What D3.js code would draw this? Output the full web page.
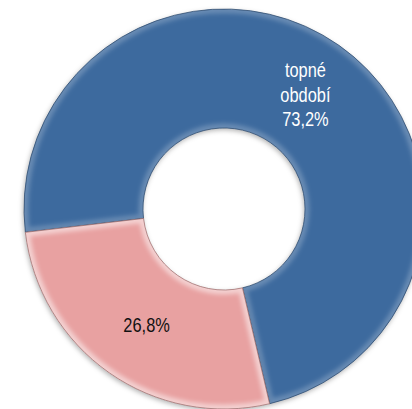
<!DOCTYPE html>
<html>
<head>
<meta charset="utf-8">
<script src="https://cdn.jsdelivr.net/npm/d3@7"></script>
<style>
  html, body { margin: 0; padding: 0; background: #fff; }
  svg { display: block; }
</style>
</head>
<body>
<div class="donut-chart"></div>
<script>
// chart data
const categories = ["topné období", "netopné období"]
const values = [73.2, 26.8]
const nameLines = [["topné", "období"], []]
const colors = ["#3e6a9e", "#e8a1a1"]
const textColors = ["#ffffff", "#111111"]

const dimensions = { width: 412, height: 409, outer: 200, inner: 81 }
const center = { x: 224, y: 209 }

const svg = d3.select('.donut-chart')
    .append('svg')
    .attr('width', dimensions.width)
    .attr('height', dimensions.height)

const defs = svg.append('defs')

const shadow = defs.append('filter')
    .attr('id', 'shadow')
    .attr('x', '-20%').attr('y', '-20%')
    .attr('width', '140%').attr('height', '140%')
shadow.append('feDropShadow')
    .attr('dx', -1).attr('dy', 2)
    .attr('stdDeviation', 2.5)
    .attr('flood-color', '#000')
    .attr('flood-opacity', 0.3)

const soft = defs.append('filter').attr('id', 'soft')
soft.append('feGaussianBlur').attr('stdDeviation', 2.2)

const graph = svg.append('g')
    .attr('transform', `translate(${center.x}, ${center.y})`)

const data = categories.map((c, i) => ({ name: c, value: values[i], idx: i }))

// blue slice starts just below the 9 o'clock position
const start = -96.7 * Math.PI / 180
const pie = d3.pie()
    .sort(null)
    .value(d => d.value)
    .startAngle(start)
    .endAngle(start + 2 * Math.PI)

const arcPath = d3.arc()
    .outerRadius(dimensions.outer)
    .innerRadius(dimensions.inner)

const labelArc = d3.arc()
    .outerRadius(140)
    .innerRadius(140)

const arcs = pie(data)

arcs.forEach((d, i) => {
    defs.append('clipPath')
        .attr('id', 'clip' + i)
        .append('path')
        .attr('d', arcPath(d))
})

const slices = graph.selectAll('g.slice')
    .data(arcs)
    .enter()
    .append('g')
    .attr('class', 'slice')

slices.append('path')
    .attr('d', arcPath)
    .attr('fill', d => colors[d.data.idx])
    .attr('filter', 'url(#shadow)')

// bevel highlight along the edges
slices.append('g')
    .attr('clip-path', (d, i) => `url(#clip${i})`)
    .append('path')
    .attr('d', arcPath)
    .attr('fill', 'none')
    .attr('stroke', '#fff')
    .attr('stroke-opacity', d => d.data.idx === 0 ? 0.22 : 0.5)
    .attr('stroke-width', 9)
    .attr('filter', 'url(#soft)')

slices.append('path')
    .attr('d', arcPath)
    .attr('fill', 'none')
    .attr('stroke', d => d3.color(colors[d.data.idx]).darker(1.2))
    .attr('stroke-opacity', 0.7)
    .attr('stroke-width', 1)

// labels
const fmt = v => d3.format('.1f')(v).replace('.', ',') + '%'

slices.each(function(d) {
    const lines = nameLines[d.data.idx].concat([fmt(d.data.value)])
    const [cx, cy] = labelArc.centroid(d)
    const lh = 24.5
    const first = lines.length === 1 ? 8 : -17
    const t = d3.select(this).append('text')
        .attr('text-anchor', 'middle')
        .attr('font-family', '"Liberation Sans", Arial, sans-serif')
        .attr('font-size', 20)
        .attr('fill', textColors[d.data.idx])
        .attr('transform', `translate(${cx + (lines.length === 1 ? 3 : 1)}, ${cy}) scale(0.82, 1)`)
    lines.forEach((l, j) => {
        t.append('tspan')
            .attr('x', 0)
            .attr('y', first + j * lh)
            .text(l)
    })
})
</script>
</body>
</html>
